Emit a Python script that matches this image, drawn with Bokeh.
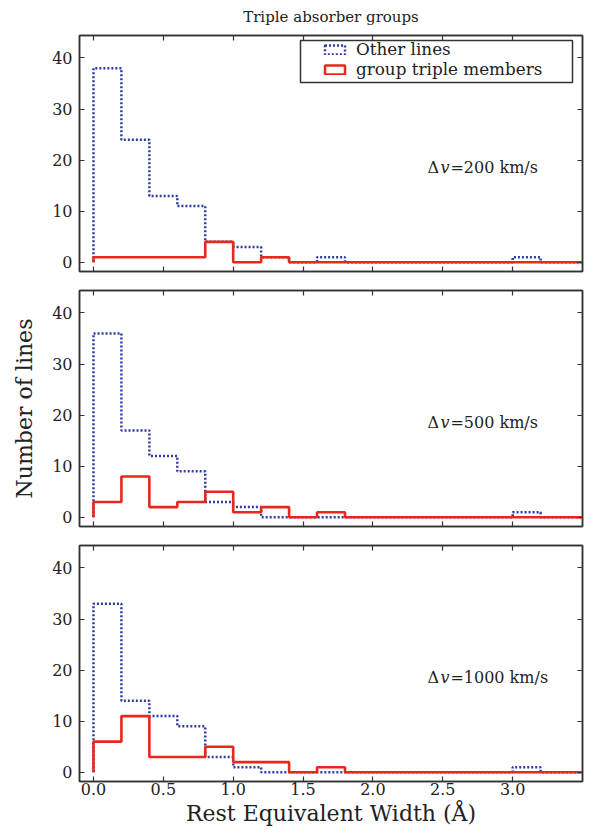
import numpy as np
from bokeh.plotting import figure
from bokeh.models import (ColumnDataSource, LinearAxis, FixedTicker, Range1d,
                          Legend, LegendItem, Label, BoxAnnotation,
                          PrintfTickFormatter, CustomLabelingPolicy)
from bokeh.layouts import column
from bokeh.embed import file_html
from bokeh.resources import INLINE
from bokeh.core.properties import value

# ---------------- data ----------------
bin_edges = [0.0, 0.2, 0.4, 0.6, 0.8, 1.0, 1.2, 1.4, 1.6, 1.8,
             2.0, 2.2, 2.4, 2.6, 2.8, 3.0, 3.2, 3.4, 3.6]

other_200 = [38, 24, 13, 11, 4, 3, 1, 0, 1, 0, 0, 0, 0, 0, 0, 1, 0, 0]
members_200 = [1, 1, 1, 1, 4, 0, 1, 0, 0, 0, 0, 0, 0, 0, 0, 0, 0, 0]

other_500 = [36, 17, 12, 9, 3, 2, 0, 0, 0, 0, 0, 0, 0, 0, 0, 1, 0, 0]
members_500 = [3, 8, 2, 3, 5, 1, 2, 0, 1, 0, 0, 0, 0, 0, 0, 0, 0, 0]

other_1000 = [33, 14, 11, 9, 3, 1, 0, 0, 0, 0, 0, 0, 0, 0, 0, 1, 0, 0]
members_1000 = [6, 11, 3, 3, 5, 2, 2, 0, 1, 0, 0, 0, 0, 0, 0, 0, 0, 0]

velocity_labels = ["=200 km/s", "=500 km/s", "=1000 km/s"]
x_ticks = [0.0, 0.5, 1.0, 1.5, 2.0, 2.5, 3.0]
y_ticks = [0, 10, 20, 30, 40]
series_names = ["Other lines", "group triple members"]

# ---------------- style ----------------
FONT = "DejaVu Serif"
BLUE = "#2f3c9e"
RED = "#e8281c"
AX = "#333333"
TXT = "#222222"

NO_LABELS = CustomLabelingPolicy(code="""
    const n = indices.size
    for (let i = 0; i < n; i++) indices.unset(i)
    return indices
""")


def set_font(obj, attr):
    try:
        setattr(obj, attr, value(FONT))
    except Exception:
        setattr(obj, attr, FONT)


def step_outline(edges, counts):
    xs, ys = [edges[0]], [0]
    for i, c in enumerate(counts):
        xs += [edges[i], edges[i + 1]]
        ys += [c, c]
    xs.append(edges[len(counts)])
    ys.append(0)
    return xs, ys


def style_axis(ax, show_labels, standoff):
    ax.major_tick_in = 5
    ax.major_tick_out = 0
    ax.minor_tick_in = 0
    ax.minor_tick_out = 0
    ax.axis_line_color = AX
    ax.axis_line_width = 1.5
    ax.major_tick_line_color = AX
    ax.major_tick_line_width = 1.2
    ax.major_label_text_font = FONT
    ax.major_label_text_color = TXT
    if show_labels:
        ax.major_label_text_font_size = "16px"
        ax.major_label_standoff = standoff
    else:
        ax.major_label_text_font_size = "1px"
        ax.major_label_standoff = 0
        ax.major_label_policy = NO_LABELS


def make_panel(other, members, vlabel, top_border, bottom_border,
               title=None, show_xlabels=False, ylabel=None, legend=False):
    p = figure(frame_width=503, frame_height=236,
               x_range=Range1d(-0.1, 3.5), y_range=Range1d(-1.8, 44.4),
               output_backend="svg", toolbar_location=None,
               min_border_left=79, min_border_right=3,
               min_border_top=top_border, min_border_bottom=bottom_border)
    p.grid.visible = False
    p.outline_line_color = AX
    p.outline_line_width = 1.5
    p.background_fill_color = "white"
    p.border_fill_color = "white"

    p.add_layout(LinearAxis(), "above")
    p.add_layout(LinearAxis(), "right")

    for ax in p.below + p.above:
        ax.ticker = FixedTicker(ticks=x_ticks)
        ax.formatter = PrintfTickFormatter(format="%.1f")
    for ax in p.left + p.right:
        ax.ticker = FixedTicker(ticks=y_ticks)

    for ax in p.below:
        style_axis(ax, show_xlabels, 1)
    for ax in p.above:
        style_axis(ax, False, 0)
    for ax in p.left:
        style_axis(ax, True, 7)
    for ax in p.right:
        style_axis(ax, False, 0)

    if show_xlabels:
        ax = p.below[0]
        ax.axis_label = "Rest Equivalent Width (\u00c5)"
        ax.axis_label_text_font = FONT
        ax.axis_label_text_font_size = "22px"
        ax.axis_label_text_font_style = "normal"
        ax.axis_label_text_color = TXT
        ax.axis_label_standoff = 3
    if ylabel:
        ax = p.left[0]
        ax.axis_label = ylabel
        ax.axis_label_text_font = FONT
        ax.axis_label_text_font_size = "22px"
        ax.axis_label_text_font_style = "normal"
        ax.axis_label_text_color = TXT
        ax.axis_label_standoff = 12

    if title:
        p.title.text = title
        p.title.align = "center"
        set_font(p.title, "text_font")
        p.title.text_font_size = "15px"
        p.title.text_font_style = "normal"
        p.title.text_color = TXT
        p.title.standoff = 11

    ox, oy = step_outline(bin_edges, other)
    mx, my = step_outline(bin_edges, members)
    p.line(ox, oy, line_color=BLUE, line_width=2.5, line_dash="2 2")
    p.line(mx, my, line_color=RED, line_width=2.6)

    # velocity annotation: "Δv=... km/s"
    parts = [("\u0394", 0, "normal"), ("v", 13, "italic"), (vlabel, 23, "normal")]
    for txt, off, style in parts:
        lab = Label(x=2.39, y=18.56, x_offset=off, text=txt,
                    text_font_size="16px", text_font_style=style,
                    text_color=TXT, text_baseline="middle")
        set_font(lab, "text_font")
        p.add_layout(lab)

    if legend:
        # legend frame (in frame-relative screen units)
        p.add_layout(BoxAnnotation(left=221, right=493, top=231, bottom=189,
                                   left_units="screen", right_units="screen",
                                   top_units="screen", bottom_units="screen",
                                   fill_color="white", fill_alpha=1.0,
                                   line_color=AX, line_width=1.5, line_alpha=1.0))
        nan_src = ColumnDataSource(dict(l=[np.nan], r=[np.nan], t=[np.nan], b=[np.nan]))
        r_other = p.quad(left="l", right="r", top="t", bottom="b", source=nan_src,
                         fill_color=None, line_color=BLUE, line_width=2.5,
                         line_dash="2 2")
        r_memb = p.quad(left="l", right="r", top="t", bottom="b", source=nan_src,
                        fill_color=None, line_color=RED, line_width=2.5)
        lg = Legend(items=[LegendItem(label=series_names[0], renderers=[r_other]),
                           LegendItem(label=series_names[1], renderers=[r_memb])],
                    location=(241, 190))
        set_font(lg, "label_text_font")
        lg.label_text_font_size = "16.8px"
        lg.label_text_color = TXT
        lg.label_height = 16
        lg.glyph_width = 25
        lg.glyph_height = 11
        lg.label_standoff = 9
        lg.spacing = 0
        lg.padding = 2
        lg.margin = 0
        lg.border_line_alpha = 0
        lg.background_fill_alpha = 0
        p.add_layout(lg, "center")
    return p


p1 = make_panel(other_200, members_200, velocity_labels[0], 34, 10,
                title="Triple absorber groups", legend=True)
p2 = make_panel(other_500, members_500, velocity_labels[1], 9, 10,
                ylabel="Number of lines")
p3 = make_panel(other_1000, members_1000, velocity_labels[2], 9, 51,
                show_xlabels=True)

layout = column(p1, p2, p3, spacing=0)
open("out.html", "w").write(file_html(layout, INLINE))
